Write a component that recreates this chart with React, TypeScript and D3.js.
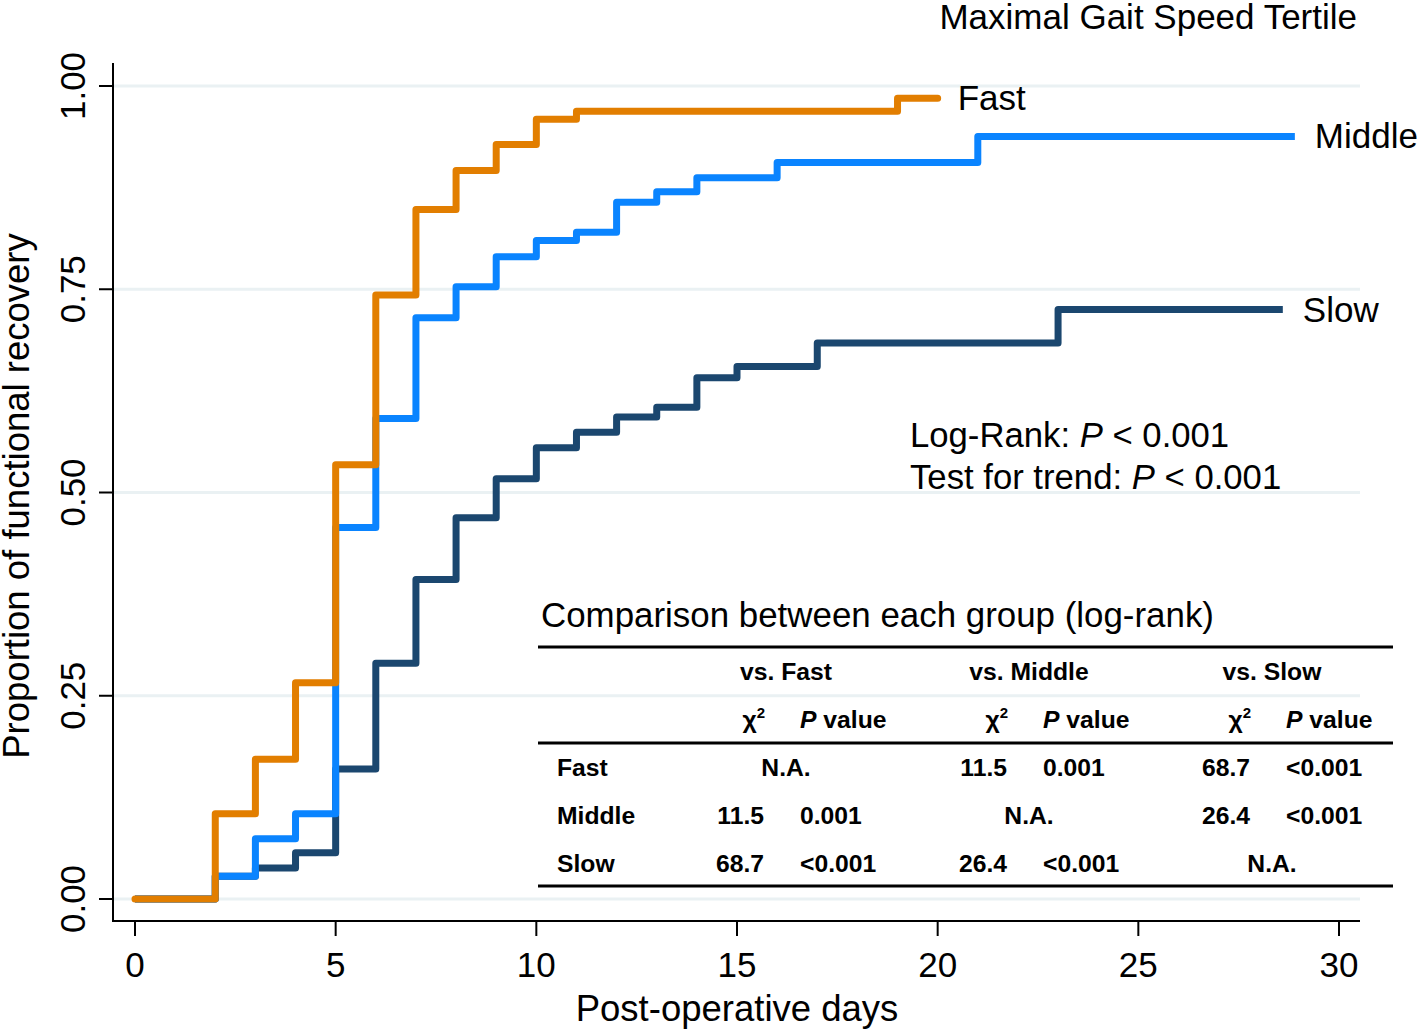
import React from "react";
import * as d3 from "d3";

// ---------- Data ----------
const seriesNames = ["Slow", "Middle", "Fast"];

const fastTimes = [0, 2, 3, 4, 5, 6, 7, 8, 9, 10, 11, 19, 20];
const fastValues = [0, 0.105, 0.172, 0.266, 0.534, 0.743, 0.848, 0.896, 0.928, 0.959, 0.969, 0.985, 0.985];

const middleTimes = [0, 2, 3, 4, 5, 6, 7, 8, 9, 10, 11, 12, 13, 14, 16, 21, 28.9];
const middleValues = [0, 0.028, 0.074, 0.105, 0.457, 0.591, 0.715, 0.753, 0.79, 0.81, 0.82, 0.857, 0.87, 0.887, 0.906, 0.938, 0.938];

const slowTimes = [0, 2, 3, 4, 5, 6, 7, 8, 9, 10, 11, 12, 13, 14, 15, 17, 23, 28.6];
const slowValues = [0, 0.028, 0.038, 0.057, 0.16, 0.29, 0.393, 0.469, 0.517, 0.555, 0.574, 0.593, 0.605, 0.641, 0.655, 0.684, 0.725, 0.725];

const xTicks = [0, 5, 10, 15, 20, 25, 30];
const yTicks = [0, 0.25, 0.5, 0.75, 1];
const yTickLabels = ["0.00", "0.25", "0.50", "0.75", "1.00"];

const tableGroups = ["Fast", "Middle", "Slow"];
const chiSquare = [
  [null, "11.5", "68.7"],
  ["11.5", null, "26.4"],
  ["68.7", "26.4", null],
];
const pValues = [
  [null, "0.001", "<0.001"],
  ["0.001", null, "<0.001"],
  ["<0.001", "<0.001", null],
];

// ---------- Styles ----------
const colors: Record<string, string> = { Fast: "#e27e00", Middle: "#0a84ff", Slow: "#1b476f" };
const caps: Record<string, string> = { Fast: "round", Middle: "butt", Slow: "butt" };
const FONT = "'Liberation Sans', Arial, Helvetica, sans-serif";

const W = 1418;
const H = 1032;

export default function App() {
  const x = d3.scaleLinear().domain([0, 30]).range([135, 1339]);
  const y = d3.scaleLinear().domain([0, 1]).range([899, 86]);

  const seriesData: Record<string, { t: number[]; v: number[] }> = {
    Fast: { t: fastTimes, v: fastValues },
    Middle: { t: middleTimes, v: middleValues },
    Slow: { t: slowTimes, v: slowValues },
  };

  const line = d3
    .line<[number, number]>()
    .x((d) => x(d[0]))
    .y((d) => y(d[1]))
    .curve(d3.curveStepAfter);

  const axisLeft = 113;
  const axisRight = 1360;
  const axisBottom = 921;
  const axisTop = 63;

  // table layout
  const tLeft = 538;
  const tRight = 1393;
  const groupX = d3.scalePoint<string>().domain(tableGroups).range([786, 1272]);
  const rowY = d3.scalePoint<string>().domain(tableGroups).range([776, 872]);
  const TF = 24.7;

  return (
    <svg
      width={W}
      height={H}
      style={{ position: "absolute", left: 0, top: 0, display: "block", background: "#fff" }}
      fontFamily={FONT}
    >
      <rect x={0} y={0} width={W} height={H} fill="#fff" />
      {/* gridlines */}
      {yTicks.map((t) => (
        <line key={"g" + t} x1={axisLeft} x2={axisRight} y1={y(t)} y2={y(t)} stroke="#eaf1f3" strokeWidth={3} />
      ))}
      {/* axes */}
      <line x1={axisLeft} x2={axisLeft} y1={axisTop} y2={axisBottom + 1} stroke="#000" strokeWidth={2} />
      <line x1={axisLeft - 1} x2={axisRight} y1={axisBottom} y2={axisBottom} stroke="#000" strokeWidth={2} />
      {yTicks.map((t, i) => (
        <g key={"yt" + t}>
          <line x1={axisLeft - 14} x2={axisLeft} y1={y(t)} y2={y(t)} stroke="#000" strokeWidth={2} />
          <text transform={`translate(85,${y(t)}) rotate(-90)`} textAnchor="middle" fontSize={35} fill="#000">
            {yTickLabels[i]}
          </text>
        </g>
      ))}
      {xTicks.map((t) => (
        <g key={"xt" + t}>
          <line x1={x(t)} x2={x(t)} y1={axisBottom} y2={axisBottom + 15} stroke="#000" strokeWidth={2} />
          <text x={x(t)} y={977} textAnchor="middle" fontSize={35} fill="#000">
            {t}
          </text>
        </g>
      ))}
      <text transform="translate(29,496) rotate(-90)" textAnchor="middle" fontSize={36.5} fill="#000">
        Proportion of functional recovery
      </text>
      <text x={737} y={1021} textAnchor="middle" fontSize={36.5} fill="#000">
        Post-operative days
      </text>
      <text x={1357} y={29} textAnchor="end" fontSize={35} fill="#000">
        Maximal Gait Speed Tertile
      </text>

      {/* curves */}
      {seriesNames.map((name) => {
        const s = seriesData[name];
        const pts: [number, number][] = s.t.map((t, i) => [t, s.v[i]]);
        return (
          <path
            key={name}
            d={line(pts) || ""}
            fill="none"
            stroke={colors[name]}
            strokeWidth={7}
            strokeLinejoin="round"
            strokeLinecap={caps[name] as any}
          />
        );
      })}
      {/* curve labels */}
      {seriesNames.map((name) => {
        const s = seriesData[name];
        const lt = s.t[s.t.length - 1];
        const lv = s.v[s.v.length - 1];
        return (
          <text key={"l" + name} x={x(lt) + 20} y={y(lv) + 12} fontSize={35} fill="#000">
            {name}
          </text>
        );
      })}

      {/* test annotations */}
      <text x={910} y={447} fontSize={34.7} fill="#000">
        Log-Rank: <tspan fontStyle="italic">P</tspan> &lt; 0.001
      </text>
      <text x={910} y={489} fontSize={34.7} fill="#000">
        Test for trend: <tspan fontStyle="italic">P</tspan> &lt; 0.001
      </text>

      {/* table */}
      <text x={541} y={627} fontSize={34.9} fill="#000">
        Comparison between each group (log-rank)
      </text>
      <line x1={tLeft} x2={tRight} y1={647} y2={647} stroke="#000" strokeWidth={3} />
      <line x1={tLeft} x2={tRight} y1={743} y2={743} stroke="#000" strokeWidth={3} />
      <line x1={tLeft} x2={tRight} y1={886} y2={886} stroke="#000" strokeWidth={3} />
      {tableGroups.map((g) => {
        const cx = groupX(g) as number;
        return (
          <g key={"h" + g} fontWeight="bold" fontSize={TF} fill="#000">
            <text x={cx} y={680} textAnchor="middle">
              vs. {g}
            </text>
            <text x={cx - 21} y={728} textAnchor="end">
              χ<tspan fontSize={15} dy={-10}>2</tspan>
            </text>
            <text x={cx + 14} y={728}>
              <tspan fontStyle="italic">P</tspan> value
            </text>
          </g>
        );
      })}
      {tableGroups.map((row, ri) => {
        const ry = rowY(row) as number;
        return (
          <g key={"r" + row} fontWeight="bold" fontSize={TF} fill="#000">
            <text x={557} y={ry}>
              {row}
            </text>
            {tableGroups.map((col, ci) => {
              const cx = groupX(col) as number;
              const chi = chiSquare[ri][ci];
              const p = pValues[ri][ci];
              if (chi === null) {
                return (
                  <text key={col} x={cx} y={ry} textAnchor="middle">
                    N.A.
                  </text>
                );
              }
              return (
                <g key={col}>
                  <text x={cx - 22} y={ry} textAnchor="end">
                    {chi}
                  </text>
                  <text x={cx + 14} y={ry}>
                    {p}
                  </text>
                </g>
              );
            })}
          </g>
        );
      })}
    </svg>
  );
}
